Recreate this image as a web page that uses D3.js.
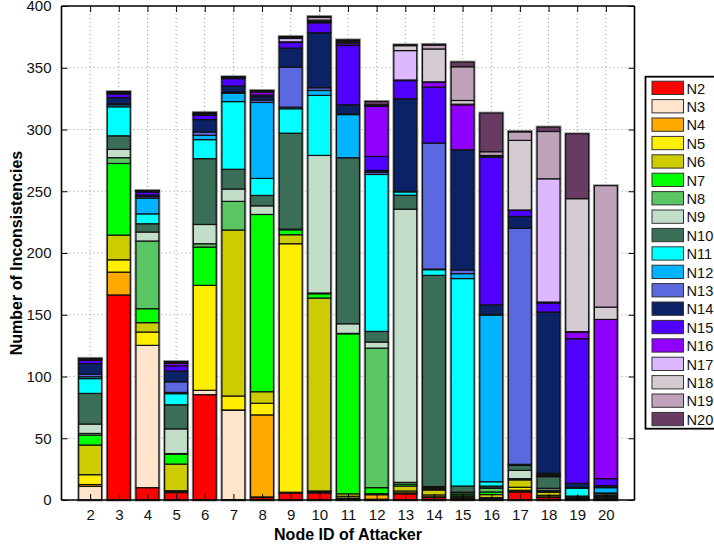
<!DOCTYPE html>
<html>
<head>
<meta charset="utf-8">
<script src="https://cdn.jsdelivr.net/npm/d3@7"></script>
<style>
  html, body { margin: 0; padding: 0; background: #fff; }
  svg { display: block; font-family: "Liberation Sans", Arial, Helvetica, sans-serif; }
</style>
</head>
<body>
<svg id="chart" width="714" height="546"></svg>
<script>
// ---- Data ----
const attackers = [2,3,4,5,6,7,8,9,10,11,12,13,14,15,16,17,18,19,20];
const seriesNames = ["N2","N3","N4","N5","N6","N7","N8","N9","N10","N11","N12","N13","N14","N15","N16","N17","N18","N19","N20"];
const seriesColors = ["#ff0000","#ffe4cc","#ffaa00","#ffee00","#cccc00","#00ff00","#5ac563","#c2dec8","#3b6e56","#00ffff","#00b4ff","#5b69e0","#0b2266","#5000ff","#9000ff","#dbb8ff","#d5ccd3","#c0a2bb","#683c62"];
const yTicks = [0,50,100,150,200,250,300,350,400];

const N2  = [0, 166, 10, 6, 85.3, 0.3, 2, 5.7, 5.7, 1, 0.3, 5, 2, 1.2, 0.5, 6.5, 2, 0.5, 0.3];
const N3  = [11, 0, 115.2, 1, 3.5, 72.3, 0.5, 0.3, 1, 0.3, 0.3, 0.5, 0.3, 0.3, 0.3, 0.7, 0.3, 0.2, 0.2];
const N4  = [1.5, 18.5, 0, 0.5, 0, 0.3, 66.4, 0.3, 0.3, 0.3, 3.7, 0.3, 0.3, 0.3, 0.3, 0.7, 0.3, 0.2, 0.2];
const N5  = [8, 10, 10.8, 0, 85, 11.3, 9.4, 201.2, 0.3, 1.4, 0.5, 1.5, 1.5, 0.5, 0.8, 2.4, 1.2, 0.3, 0.3];
const N6  = [24, 20, 7.6, 21.6, 0, 134.4, 9.4, 7.3, 156.2, 2, 0.3, 4, 4, 0.8, 2.5, 6, 2.5, 0.5, 0.5];
const N7  = [8, 58, 11.3, 8, 31, 0, 143.5, 4, 3.5, 129.6, 4.9, 1.5, 1, 1.2, 2.1, 0.5, 0.7, 0.3, 0.8];
const N8  = [1.4, 4.7, 54.8, 0.5, 2.7, 23.2, 0, 0.5, 0.6, 0.3, 113, 1.5, 1, 1.5, 3, 0.5, 1, 0.4, 1];
const N9  = [7.6, 6.7, 7.3, 20, 15.6, 10, 7, 0, 111.4, 7.8, 4.9, 221.2, 0.8, 0.5, 0.3, 6.7, 1.5, 0.2, 0.4];
const N10 = [24.8, 11, 6.7, 19.5, 53.3, 16, 8.4, 77.7, 0, 134.4, 8.6, 11.3, 171, 5, 1.5, 4, 9.4, 0.6, 1.5];
const N11 = [12, 23.5, 8, 9, 15.4, 54.8, 13.8, 19.8, 48.6, 0, 127.1, 2.7, 4.6, 168, 3.5, 0.5, 0.8, 6.3, 0.5];
const N12 = [1.5, 1.6, 12.7, 1, 3.5, 6.7, 61.5, 1.3, 4, 35, 0, 0.3, 0.5, 4, 135, 0.4, 0.8, 0.5, 4.3];
const N13 = [2, 0.8, 1.3, 8.6, 2.7, 1, 2, 32.4, 2.2, 0.6, 1.9, 0, 102, 3, 0.4, 191.1, 1.1, 0.3, 0.3];
const N14 = [8.7, 5, 1.2, 8.7, 10, 4.9, 2.7, 15.4, 44.5, 7.3, 1.4, 75, 0, 97.3, 7.8, 9.6, 130.6, 3.2, 1.3];
const N15 = [2.6, 3, 2.5, 4.3, 3.5, 6, 1.3, 4.6, 8.1, 48, 11.3, 14.8, 45.3, 0, 119.5, 4.9, 7.3, 117.1, 5.7];
const N16 = [0.4, 0.7, 0.4, 2, 0.5, 0.5, 2.5, 0.5, 0.8, 1.5, 40.5, 0.5, 4, 36.4, 0, 0.3, 0.8, 5.4, 128.9];
const N17 = [0.3, 0.3, 0.2, 0.3, 0.3, 0.2, 0.3, 2.7, 0.3, 0.4, 0.3, 23.8, 0.3, 0.5, 0.5, 0, 99.8, 0.3, 0];
const N18 = [0.3, 0.3, 0.2, 0.3, 0.5, 0.3, 0.3, 0.5, 1, 0.7, 0.4, 4, 26.6, 3, 1, 56.4, 0, 107.7, 10];
const N19 = [0.3, 0.3, 0.2, 0.3, 0.5, 0.3, 0.3, 0.5, 2.5, 1, 0.6, 0.4, 3.2, 27.3, 3, 6.9, 38.3, 0, 98.3];
const N20 = [0.3, 0.3, 0.2, 0.5, 0.5, 0.3, 0.3, 0.6, 0.5, 1, 2.7, 0.3, 0.5, 3.8, 31.3, 0.3, 3.6, 52.5, 0];

const seriesValues = [N2,N3,N4,N5,N6,N7,N8,N9,N10,N11,N12,N13,N14,N15,N16,N17,N18,N19,N20];

// ---- Build table for d3.stack ----
const table = attackers.map((a, i) => {
  const row = { attacker: a };
  seriesNames.forEach((s, j) => { row[s] = seriesValues[j][i]; });
  return row;
});
const stacked = d3.stack().keys(seriesNames)(table);

// ---- Layout ----
const svg = d3.select("#chart");
const L = 61.5, R = 634.5, T = 6, B = 500;
const x = d3.scaleLinear().domain([1, 21]).range([L, R]);
const y = d3.scaleLinear().domain([0, 400]).range([B, T]);
const step = x(2) - x(1);
const bw = step * 0.8;
const font = '"Liberation Sans", Arial, Helvetica, sans-serif';

// grid
const grid = svg.append("g");
grid.selectAll("line.gy").data(yTicks.slice(1, -1)).enter().append("line")
  .attr("x1", L).attr("x2", R).attr("y1", d => y(d)).attr("y2", d => y(d))
  .attr("stroke", "#8a8a8a").attr("stroke-width", 0.9).attr("stroke-dasharray", "1,3");
grid.selectAll("line.gx").data(attackers).enter().append("line")
  .attr("x1", d => x(d)).attr("x2", d => x(d)).attr("y1", T).attr("y2", B)
  .attr("stroke", "#8a8a8a").attr("stroke-width", 0.9).attr("stroke-dasharray", "1,3");

// bar halos
const totals = table.map(r => d3.sum(seriesNames, s => r[s]));
svg.append("g").selectAll("rect").data(attackers).enter().append("rect")
  .attr("x", d => x(d) - bw / 2).attr("width", bw)
  .attr("y", (d, i) => y(totals[i])).attr("height", (d, i) => y(0) - y(totals[i]))
  .attr("fill", "none").attr("stroke", "#9a9a9a").attr("stroke-width", 3);

// stacked segments
const layers = svg.append("g").selectAll("g").data(stacked).enter().append("g")
  .attr("fill", (d, i) => seriesColors[i]);
layers.selectAll("rect").data(d => d.filter(p => p[1] - p[0] > 0)).enter().append("rect")
  .attr("x", d => x(d.data.attacker) - bw / 2)
  .attr("width", bw)
  .attr("y", d => y(d[1]))
  .attr("height", d => y(d[0]) - y(d[1]))
  .attr("stroke", "#111").attr("stroke-width", 1.2);

// axes (MATLAB-style box with inward ticks)
const axB = d3.axisBottom(x).tickValues(attackers).tickSize(-6).tickPadding(9).tickFormat(d3.format("d"));
const axT = d3.axisTop(x).tickValues(attackers).tickSize(-6).tickFormat("");
const axL = d3.axisLeft(y).tickValues(yTicks).tickSize(-6).tickPadding(10).tickFormat(d3.format("d"));
const axR = d3.axisRight(y).tickValues(yTicks).tickSize(-6).tickFormat("");

function style(g) {
  g.selectAll(".domain").attr("stroke", "#000").attr("stroke-width", 1.6);
  g.selectAll(".tick line").attr("stroke", "#000").attr("stroke-width", 1);
  g.selectAll(".tick text").attr("fill", "#111").style("font-size", "15px").style("font-family", font);
}
svg.append("g").attr("transform", `translate(0,${B})`).call(axB).call(style)
  .selectAll(".domain").attr("d", `M${L},0H${R}`);
svg.append("g").attr("transform", `translate(0,${T})`).call(axT).call(style)
  .selectAll(".domain").attr("d", `M${L},0H${R}`);
svg.append("g").attr("transform", `translate(${L},0)`).call(axL).call(style)
  .selectAll(".domain").attr("d", `M0,${T}V${B}`);
svg.append("g").attr("transform", `translate(${R},0)`).call(axR).call(style)
  .selectAll(".domain").attr("d", `M0,${T}V${B}`);

// axis titles
svg.append("text").attr("x", (L + R) / 2).attr("y", 540).attr("text-anchor", "middle")
  .style("font-size", "16px").style("font-weight", "bold").style("font-family", font)
  .text("Node ID of Attacker");
svg.append("text").attr("transform", `translate(22,${(T + B) / 2}) rotate(-90)`).attr("text-anchor", "middle")
  .style("font-size", "16px").style("font-weight", "bold").style("font-family", font)
  .text("Number of Inconsistencies");

// legend
const lg = svg.append("g");
const lx = 645.5, ly = 76.7, rowH = 18.4;
lg.append("rect").attr("x", lx).attr("y", ly).attr("width", 90).attr("height", 352)
  .attr("fill", "#fff").attr("stroke", "#000").attr("stroke-width", 1.8);
const items = lg.selectAll("g.item").data(seriesNames).enter().append("g")
  .attr("transform", (d, i) => `translate(${lx + 6.5},${ly + 4.5 + i * rowH})`);
items.append("rect").attr("width", 31.5).attr("height", 13.3)
  .attr("fill", (d, i) => seriesColors[i]).attr("stroke", "#333").attr("stroke-width", 1);
items.append("text").attr("x", 34.5).attr("y", 12.3)
  .style("font-size", "14.6px").style("font-family", font).attr("fill", "#111")
  .text(d => d);
</script>
</body>
</html>
